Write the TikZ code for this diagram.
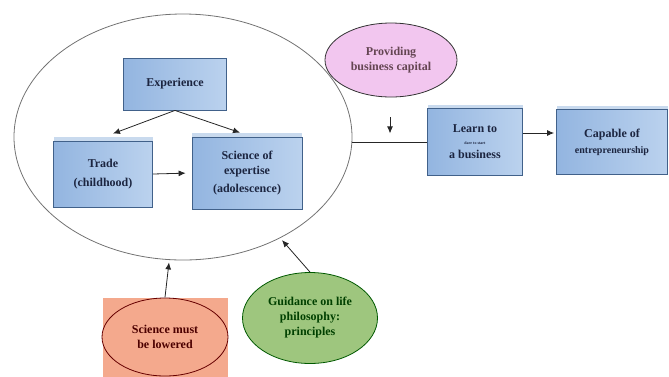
\documentclass[tikz,border=0pt]{standalone}
\usepackage{fontspec}
\setmainfont{Liberation Serif}
\usetikzlibrary{arrows.meta, shapes.geometric, calc, shadows}
\definecolor{boxdraw}{HTML}{41618A}
\definecolor{boxdark}{HTML}{93B5E0}
\definecolor{boxlight}{HTML}{BBD2EE}
\definecolor{boxtop}{HTML}{C9DAEE}
\definecolor{boxtext}{HTML}{1C2540}
\definecolor{pinkfill}{HTML}{F2C6EF}
\definecolor{salmonfill}{HTML}{F4A98D}
\definecolor{greenfill}{HTML}{9EC67E}
\tikzset{
    my-box/.style={
        rectangle, draw=boxdraw, thick, left color=boxdark, right color=boxlight,
        align=center, font=\fontsize{12}{15}\selectfont\bfseries, text=boxtext, inner sep=2pt
    },
    my-tab/.style={
        my-box, drop shadow={shadow xshift=0pt, shadow yshift=4pt, fill=boxtop, opacity=1}
    },
    my-bubble/.style={
        ellipse, draw=black!80, thick, align=center, font=\fontsize{12}{15}\selectfont\bfseries, inner sep=0pt
    },
    my-arrow/.style={
        -{Latex[length=7pt, width=6pt]}, thick, black!85
    },
}
\begin{document}
\begin{tikzpicture}[x=1pt, y=-1pt]

        \useasboundingbox (0,0) rectangle (669,376);

        % BIG ELLIPSE
        \node[ellipse, draw=black!55, thick, minimum width=338pt, minimum height=246pt] (SPHERE) at (183, 137) {};

        % BOXES INSIDE THE ELLIPSE
        \node[my-box, minimum width=103pt, minimum height=52pt] (EXP)   at (175, 84)              {Experience};
        \node[my-tab, minimum width=99pt,  minimum height=66pt] (TRADE) at ($(EXP) + (-72, 90)$)  {Trade\\[4pt](childhood)};
        \node[my-tab, minimum width=110pt, minimum height=72pt] (SCI)   at ($(EXP) + (72, 89)$)   {Science of\\expertise\\[3pt](adolescence)};

        % BOXES ON THE RIGHT
        \node[my-tab, minimum width=95pt,  minimum height=67pt] (LEARN)   at (475, 142)           {Learn to\\[-3pt]{\fontsize{4}{5}\selectfont dare to start}\\[-1pt]a business};
        \node[my-tab, minimum width=111pt, minimum height=65pt] (CAPABLE) at ($(LEARN) + (137, 0)$) {Capable of\\[1pt]{\fontsize{10}{12}\selectfont entrepreneurship}};

        % BUBBLES
        \node[my-bubble, fill=pinkfill, text=black!70!magenta, minimum width=132pt, minimum height=74pt] (CAPITAL) at (391, 60) {Providing\\business capital};
        \node[rectangle, fill=salmonfill, minimum width=125pt, minimum height=79pt] (LOWEREDBG) at (165, 337) {};
        \node[my-bubble, draw=black!60!red, fill=salmonfill, text=black!70!red, minimum width=126pt, minimum height=78pt] (LOWERED) at (LOWEREDBG) {Science must\\be lowered};
        \node[my-bubble, draw=black!65!green, fill=greenfill, text=black!75!green, minimum width=135pt, minimum height=91pt] (GUIDE) at (310, 318) {Guidance on life\\philosophy:\\principles};

        % CONNECTOR POINTS
        \coordinate (TRADEIN)  at ($(TRADE.north) + (10, -7)$);
        \coordinate (SCIIN)    at ($(SCI.north) + (-7, -4)$);
        \coordinate (LINESTART) at (SPHERE.east |- LEARN.west);
        \coordinate (CAPIN)    at ($(CAPITAL.south) + (-1, 36)$);
        \coordinate (LOWIN)    at ($(SPHERE.south) + (-14, 2)$);
        \coordinate (GUIDEIN)  at ($(GUIDE.north) + (-28, -32)$);

        % ARROWS INSIDE THE ELLIPSE
        \draw[my-arrow] (EXP.south) -- (TRADEIN);
        \draw[my-arrow] (EXP.south) -- (SCIIN);
        \draw[my-arrow, shorten >=6pt] (TRADE.east) -- (SCI.west);

        % ARROWS ON THE RIGHT
        \draw[thick, black!85] (LINESTART) -- (LEARN.west);
        \draw[my-arrow, shorten <=20pt] ($(CAPITAL.south) + (-1, 0)$) -- (CAPIN);
        \draw[my-arrow, shorten >=2pt] ([yshift=9pt]LEARN.east) -- ([yshift=9pt]CAPABLE.west);

        % ARROWS FROM BELOW
        \draw[my-arrow] (LOWEREDBG.north) -- (LOWIN);
        \draw[my-arrow] (GUIDE.north) -- (GUIDEIN);

    \end{tikzpicture}
\end{document}
